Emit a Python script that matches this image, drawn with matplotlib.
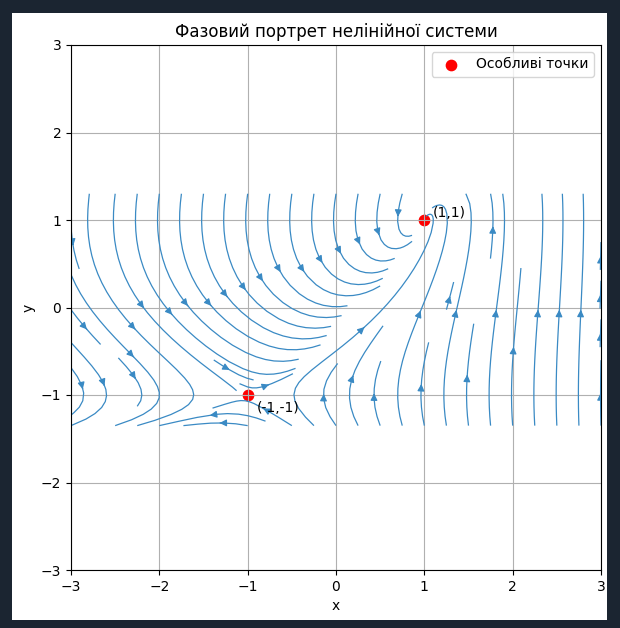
import numpy as np
import matplotlib
matplotlib.use('Agg')
import matplotlib.pyplot as plt
from matplotlib.patches import Rectangle

# singular points and their labels
pts_x = [1, -1]
pts_y = [1, -1]
pts_lbl = ['(1,1)', '(-1,-1)']
lbl_x = [1.1, -0.9]
lbl_y = [1.08, -1.15]

# grid for the phase portrait
x = np.linspace(-3, 3, 40)
y = np.linspace(-1.35, 1.3, 40)
X, Y = np.meshgrid(x, y)

# vector field
U = 1 - Y**2
V = 1.5 * (np.exp(X) - np.exp(Y))

fig = plt.figure(figsize=(6.2, 6.28), dpi=100, facecolor='#1b2531')
fig.add_artist(Rectangle((12/620, 8/628), 595/620, 607/628,
                         transform=fig.transFigure, facecolor='white',
                         edgecolor='none', zorder=-10))
ax = fig.add_axes([71/620, 1 - 570/628, 530/620, 525/628])

ax.streamplot(X, Y, U, V, density=0.85, color='#3a8ac4', linewidth=0.9)
ax.scatter(pts_x, pts_y, color='red', s=55, zorder=0.4, label='Особливі точки')
for xi, yi, t in zip(lbl_x, lbl_y, pts_lbl):
    ax.text(xi, yi, t, fontsize=10, va='center')

ax.set_xlim(-3, 3)
ax.set_ylim(-3, 3)
ax.set_xlabel('x')
ax.set_ylabel('y')
ax.set_title('Фазовий портрет нелінійної системи')
ax.grid(True)
ax.legend(loc='upper right')

fig.savefig('out.png', dpi=100, facecolor=fig.get_facecolor())
